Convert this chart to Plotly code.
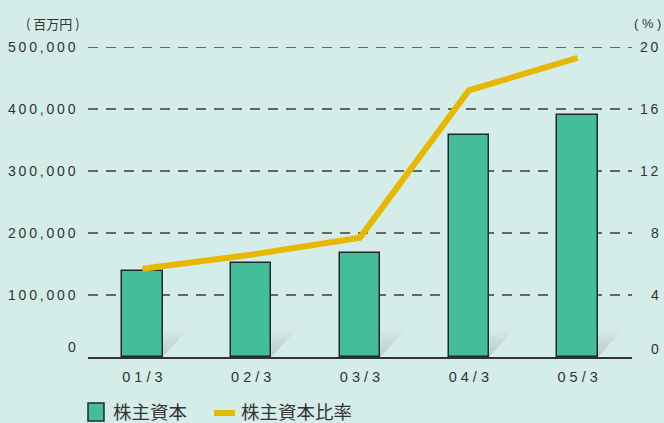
import plotly.graph_objects as go

# ---- data ----
categories = ["01/3", "02/3", "03/3", "04/3", "05/3"]
equity = [138700, 151600, 167700, 358000, 390300]          # 株主資本 (百万円)
equity_ratio = [5.7, 6.6, 7.7, 17.2, 19.3]                  # 株主資本比率 (%)
left_ticks = [0, 100000, 200000, 300000, 400000, 500000]
right_ticks = [0, 4, 8, 12, 16, 20]

BG = "#d5ede9"
BAR = "#43bd9a"
LINE = "#e8b800"
TXT = "#333333"
FONT = "Liberation Sans, Arial, sans-serif"
CJK = "Noto Sans CJK JP, sans-serif"
TS = "\u2009"  # thin space for letter spacing

def spaced(s):
    return TS.join(list(s))

x = list(range(len(categories)))
BW = 0.37

fig = go.Figure()
fig.add_trace(go.Bar(
    x=x, y=equity, width=BW, name="株主資本",
    marker=dict(color=BAR, line=dict(color="#1f2b27", width=1.5)),
    yaxis="y", showlegend=False,
))
fig.add_trace(go.Scatter(
    x=x, y=equity_ratio, mode="lines", name="株主資本比率",
    line=dict(color=LINE, width=6), yaxis="y2", showlegend=False,
))

# shadows to the right of bars (decorative gradient triangles)
shapes = []
H = 43500
D = 0.23
bands = 6
for i in x:
    xr = i + BW / 2
    for k in range(bands):
        y0 = H * k / bands
        y1 = H * (k + 1) / bands
        op = 0.17 * (1 - k / bands)
        path = (f"M {xr},{y0} L {xr + D * y0 / H},{y0} "
                f"L {xr + D * y1 / H},{y1} L {xr},{y1} Z")
        shapes.append(dict(type="path", path=path, xref="x", yref="y",
                           fillcolor=f"rgba(60,60,60,{op:.3f})",
                           line=dict(width=0), layer="below"))

# top gridline (plotly omits gridlines at the range edge)
shapes.append(dict(type="line", xref="paper", yref="y", x0=0, x1=1,
                   y0=left_ticks[-1], y1=left_ticks[-1],
                   line=dict(color="#666666", width=2, dash="10px,8px"),
                   layer="below"))

# legend drawn manually
LY = 411
shapes.append(dict(type="rect", xref="paper", yref="paper",
                   x0=0.0, x1=0.0294, y0=(357 - 421) / 310, y1=(357 - 403) / 310,
                   fillcolor=BAR, line=dict(color="#1f2b27", width=1.5)))
shapes.append(dict(type="line", xref="paper", yref="paper",
                   x0=(214 - 88) / 544, x1=(235 - 88) / 544,
                   y0=(357 - (LY + 2)) / 310, y1=(357 - (LY + 2)) / 310,
                   line=dict(color=LINE, width=6)))

annotations = []
for v in left_ticks:
    annotations.append(dict(
        text=spaced(f"{v:,}"), xref="paper", yref="y", x=0, y=v,
        xanchor="right", yanchor="middle", xshift=-10,
        yshift=10 if v == 0 else 0, showarrow=False,
        font=dict(family=FONT, size=14, color=TXT)))
for v in right_ticks:
    annotations.append(dict(
        text=spaced(str(v)), xref="paper", yref="y2", x=1, y=v,
        xanchor="right", yanchor="middle", xshift=29,
        yshift=8 if v == 0 else 0, showarrow=False,
        font=dict(family=FONT, size=14, color=TXT)))

annotations.append(dict(text="( 百万円 )", xref="paper", yref="paper",
                        x=(24 - 88) / 544, y=(357 - 23) / 310, xanchor="left",
                        yanchor="middle", showarrow=False,
                        font=dict(family=CJK, size=13, color=TXT)))
annotations.append(dict(text="( % )", xref="paper", yref="paper",
                        x=(663 - 88) / 544, y=(357 - 23) / 310, xanchor="right",
                        yanchor="middle", showarrow=False,
                        font=dict(family=FONT, size=13, color=TXT)))
annotations.append(dict(text="株主資本", xref="paper", yref="paper",
                        x=(111 - 88) / 544, y=(357 - LY) / 310, xanchor="left",
                        yanchor="middle", showarrow=False,
                        font=dict(family=CJK, size=18.5, color=TXT)))
annotations.append(dict(text="株主資本比率", xref="paper", yref="paper",
                        x=(239 - 88) / 544, y=(357 - LY) / 310, xanchor="left",
                        yanchor="middle", showarrow=False,
                        font=dict(family=CJK, size=18.5, color=TXT)))

fig.update_layout(
    width=664, height=423,
    margin=dict(l=88, r=32, t=47, b=66),
    paper_bgcolor=BG, plot_bgcolor=BG,
    bargap=0,
    xaxis=dict(range=[-0.5, 4.5], tickvals=x,
               ticktext=[" ".join(list(c)) for c in categories],
               showgrid=False, zeroline=False, showline=True,
               linecolor="#333333", linewidth=2, ticks="", ticklabelstandoff=6,
               tickfont=dict(family=FONT, size=14.5, color=TXT)),
    yaxis=dict(range=[0, 500000], tickvals=left_ticks[1:-1], showticklabels=False,
               showgrid=True, gridcolor="#666666", gridwidth=1.5,
               griddash="10px,8px", zeroline=False, showline=False, ticks=""),
    yaxis2=dict(range=[0, 20], overlaying="y", side="right", showgrid=False,
                showticklabels=False, zeroline=False, showline=False, ticks=""),
    shapes=shapes, annotations=annotations,
    showlegend=False,
)

fig.write_html("out.html", config={"displayModeBar": False},
               post_script="document.body.style.margin='0';document.body.style.padding='0';document.body.style.overflow='hidden';")
